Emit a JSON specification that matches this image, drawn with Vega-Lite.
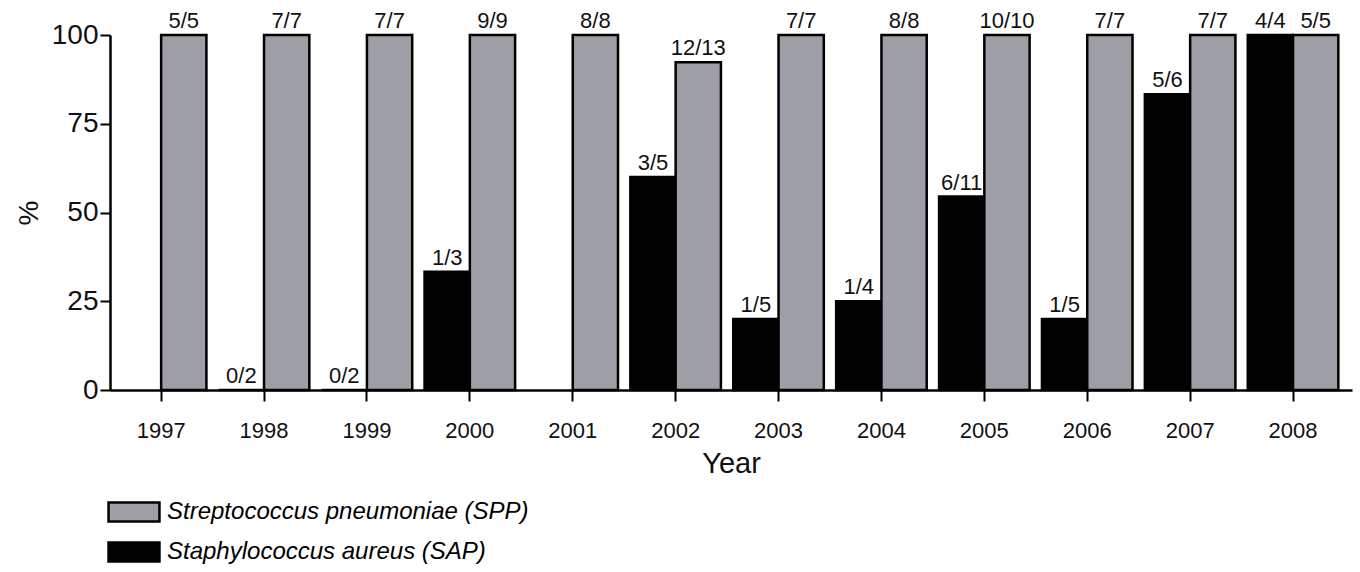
{
  "$schema": "https://vega.github.io/schema/vega-lite/v6.json",
  "autosize": {"type": "none"},
  "padding": {"left": 110, "top": 35, "right": 8, "bottom": 182},
  "width": 1242,
  "height": 355,
  "background": "white",
  "config": {
    "view": {"stroke": null},
    "font": "Liberation Sans",
    "axis": {"grid": false, "domainColor": "#000", "domainWidth": 2.5, "tickColor": "#000", "tickWidth": 2, "labelColor": "#111", "titleColor": "#111", "labelFont": "Liberation Sans", "titleFont": "Liberation Sans", "titleFontWeight": "normal"}
  },
  "data": {
    "values": [
      {"year": "1997", "series": "Streptococcus pneumoniae (SPP)", "pct": 100, "label": "5/5"},
      {"year": "1998", "series": "Staphylococcus aureus (SAP)", "pct": 0, "label": "0/2"},
      {"year": "1998", "series": "Streptococcus pneumoniae (SPP)", "pct": 100, "label": "7/7"},
      {"year": "1999", "series": "Staphylococcus aureus (SAP)", "pct": 0, "label": "0/2"},
      {"year": "1999", "series": "Streptococcus pneumoniae (SPP)", "pct": 100, "label": "7/7"},
      {"year": "2000", "series": "Staphylococcus aureus (SAP)", "pct": 33.3, "label": "1/3"},
      {"year": "2000", "series": "Streptococcus pneumoniae (SPP)", "pct": 100, "label": "9/9"},
      {"year": "2001", "series": "Streptococcus pneumoniae (SPP)", "pct": 100, "label": "8/8"},
      {"year": "2002", "series": "Staphylococcus aureus (SAP)", "pct": 60, "label": "3/5"},
      {"year": "2002", "series": "Streptococcus pneumoniae (SPP)", "pct": 92.3, "label": "12/13"},
      {"year": "2003", "series": "Staphylococcus aureus (SAP)", "pct": 20, "label": "1/5"},
      {"year": "2003", "series": "Streptococcus pneumoniae (SPP)", "pct": 100, "label": "7/7"},
      {"year": "2004", "series": "Staphylococcus aureus (SAP)", "pct": 25, "label": "1/4"},
      {"year": "2004", "series": "Streptococcus pneumoniae (SPP)", "pct": 100, "label": "8/8"},
      {"year": "2005", "series": "Staphylococcus aureus (SAP)", "pct": 54.5, "label": "6/11"},
      {"year": "2005", "series": "Streptococcus pneumoniae (SPP)", "pct": 100, "label": "10/10"},
      {"year": "2006", "series": "Staphylococcus aureus (SAP)", "pct": 20, "label": "1/5"},
      {"year": "2006", "series": "Streptococcus pneumoniae (SPP)", "pct": 100, "label": "7/7"},
      {"year": "2007", "series": "Staphylococcus aureus (SAP)", "pct": 83.3, "label": "5/6"},
      {"year": "2007", "series": "Streptococcus pneumoniae (SPP)", "pct": 100, "label": "7/7"},
      {"year": "2008", "series": "Staphylococcus aureus (SAP)", "pct": 100, "label": "4/4"},
      {"year": "2008", "series": "Streptococcus pneumoniae (SPP)", "pct": 100, "label": "5/5"}
    ]
  },
  "encoding": {
    "x": {
      "field": "year", "type": "nominal",
      "scale": {"paddingInner": 0.12, "paddingOuter": 0.095, "align": 0.3},
      "axis": {"title": "Year", "titleFontSize": 29, "titlePadding": 8, "labelFontSize": 22, "labelAngle": 0, "tickSize": 11, "labelPadding": 19}
    },
    "xOffset": {"field": "series", "type": "nominal", "sort": ["Staphylococcus aureus (SAP)", "Streptococcus pneumoniae (SPP)"]},
    "y": {
      "field": "pct", "type": "quantitative",
      "scale": {"domain": [0, 100], "nice": false},
      "axis": {"title": "%", "titleFontSize": 28, "titlePadding": 8, "labelFontSize": 28, "values": [0, 25, 50, 75, 100], "tickSize": 10, "labelPadding": 2}
    }
  },
  "layer": [
    {
      "mark": {"type": "bar", "stroke": "#000", "strokeWidth": 2.5, "clip": false},
      "encoding": {
        "color": {
          "field": "series", "type": "nominal",
          "scale": {"domain": ["Streptococcus pneumoniae (SPP)", "Staphylococcus aureus (SAP)"], "range": ["#9e9ea6", "#000000"]},
          "legend": {
            "title": null, "orient": "none", "legendX": 12, "legendY": 465, "direction": "vertical",
            "symbolType": "M-2.68,-1H2.68V1H-2.68Z", "symbolSize": 361, "symbolStrokeColor": "#000", "symbolStrokeWidth": 2.5, "symbolOpacity": 1,
            "labelFontSize": 24, "labelFontStyle": "italic", "labelFont": "Liberation Sans", "labelColor": "#000", "labelOffset": 21, "labelLimit": 600, "rowPadding": 10
          }
        }
      }
    },
    {
      "mark": {"type": "text", "baseline": "bottom", "dy": -2, "fontSize": 22, "color": "#111"},
      "encoding": {"text": {"field": "label"}}
    }
  ]
}
